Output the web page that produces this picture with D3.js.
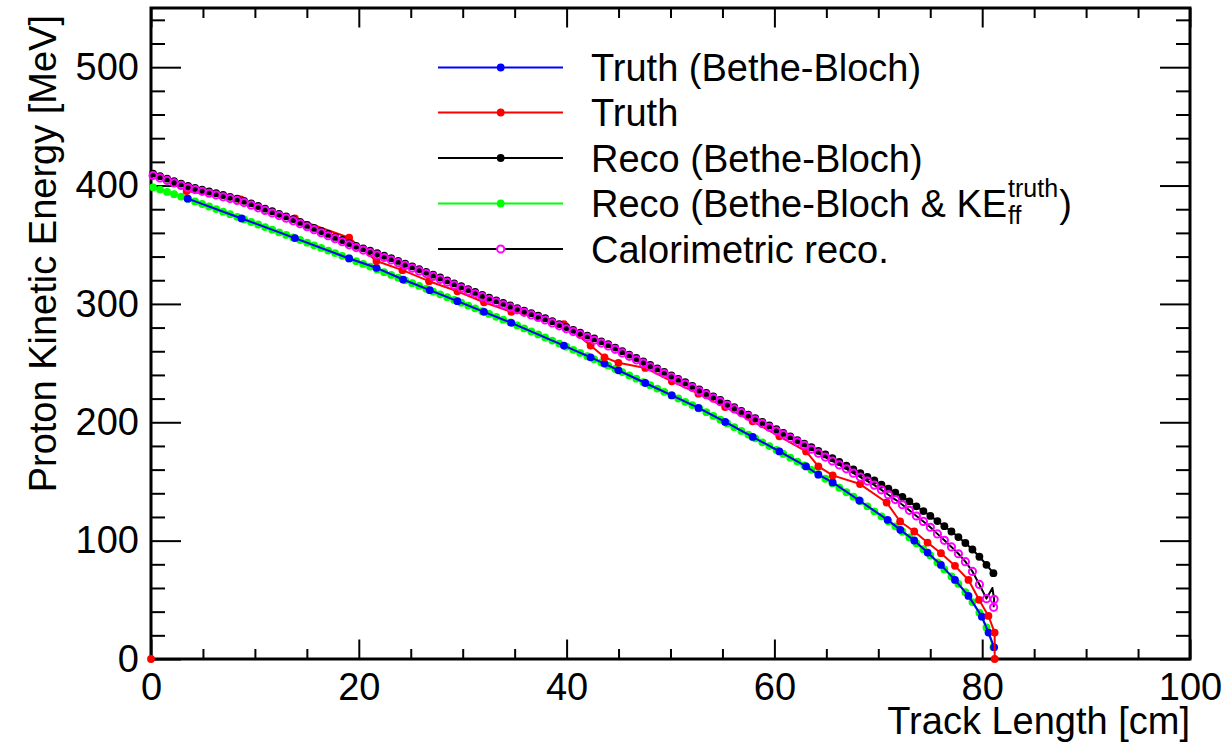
<!DOCTYPE html>
<html>
<head>
<meta charset="utf-8">
<script src="https://cdn.jsdelivr.net/npm/d3@7"></script>
<style>
  html, body { margin: 0; padding: 0; background: #ffffff; }
  svg { display: block; font-family: "Liberation Sans", Arial, Helvetica, sans-serif; }
</style>
</head>
<body>
<svg id="chart" width="1224" height="742"></svg>
<script>
// ---- Reconstructed track: position of each hit along the track [cm] ----
const recoLen = [
  0.20, 0.87, 1.55, 2.22, 2.90, 3.57, 4.24, 4.92, 5.59, 6.27,
  6.94, 7.61, 8.29, 8.96, 9.64, 10.31, 10.98, 11.66, 12.33, 13.01,
  13.68, 14.35, 15.03, 15.70, 16.38, 17.05, 17.72, 18.40, 19.07, 19.75,
  20.42, 21.09, 21.77, 22.44, 23.12, 23.79, 24.46, 25.14, 25.81, 26.49,
  27.16, 27.83, 28.51, 29.18, 29.86, 30.53, 31.20, 31.88, 32.55, 33.23,
  33.90, 34.57, 35.25, 35.92, 36.60, 37.27, 37.94, 38.62, 39.29, 39.97,
  40.64, 41.31, 41.99, 42.66, 43.34, 44.01, 44.68, 45.36, 46.03, 46.71,
  47.38, 48.05, 48.73, 49.40, 50.08, 50.75, 51.42, 52.10, 52.77, 53.45,
  54.12, 54.79, 55.47, 56.14, 56.82, 57.49, 58.16, 58.84, 59.51, 60.19,
  60.86, 61.53, 62.21, 62.88, 63.56, 64.23, 64.90, 65.58, 66.25, 66.93,
  67.60, 68.27, 68.95, 69.62, 70.30, 70.97, 71.64, 72.32, 72.99, 73.67,
  74.34, 75.01, 75.69, 76.36, 77.04, 77.71, 78.38, 79.06, 79.73, 80.41,
  81.08
];

// Reco KE from Bethe-Bloch [MeV]
const recoBB = [
  410.0, 407.9, 405.8, 403.7, 401.6, 399.6, 398.1, 396.6, 395.0, 393.5,
  392.0, 390.5, 388.9, 387.1, 384.9, 382.7, 380.5, 378.3, 376.1, 373.9,
  371.7, 369.3, 366.7, 364.2, 361.6, 359.1, 356.6, 354.0, 351.4, 349.1,
  347.0, 344.9, 342.8, 340.7, 338.6, 336.3, 334.0, 331.7, 329.4, 327.1,
  324.7, 322.3, 319.8, 317.4, 314.9, 312.5, 310.1, 307.6, 305.2, 303.0,
  300.8, 298.7, 296.5, 294.4, 292.2, 290.0, 287.9, 285.4, 283.0, 280.5,
  278.1, 275.7, 273.2, 270.8, 268.4, 266.0, 263.1, 260.1, 257.2, 254.3,
  251.4, 248.4, 245.5, 242.6, 239.7, 236.7, 233.8, 230.8, 227.8, 224.8,
  221.9, 218.9, 215.8, 212.8, 209.6, 206.5, 203.5, 200.3, 197.3, 194.1,
  191.1, 188.1, 185.0, 182.0, 178.9, 175.9, 172.8, 169.6, 166.5, 163.3,
  160.2, 157.1, 153.9, 150.8, 147.4, 143.9, 140.5, 136.9, 133.1, 129.0,
  125.0, 120.9, 116.5, 112.2, 107.7, 103.0, 98.0, 92.5, 86.4, 79.6,
  72.5
];

// Reco KE from Bethe-Bloch, starting from the true front-face KE [MeV]
const recoBBff = [
  398.5, 396.6, 394.6, 392.7, 390.7, 388.8, 386.6, 384.4, 382.3, 380.1,
  377.9, 375.8, 373.6, 371.4, 369.2, 367.1, 364.9, 362.7, 360.5, 358.3,
  356.1, 354.0, 351.7, 349.5, 347.3, 345.1, 342.9, 340.6, 338.4, 336.1,
  333.8, 331.5, 329.1, 326.8, 324.5, 322.2, 319.9, 317.5, 315.2, 312.8,
  310.4, 308.1, 305.7, 303.4, 301.0, 298.6, 296.3, 293.9, 291.5, 289.1,
  286.7, 284.4, 281.8, 279.3, 276.7, 274.2, 271.6, 269.0, 266.5, 263.9,
  261.2, 258.6, 255.8, 253.2, 250.5, 247.8, 245.1, 242.4, 239.6, 236.8,
  234.0, 231.3, 228.5, 225.7, 222.9, 220.1, 217.3, 214.5, 211.7, 208.5,
  205.4, 202.2, 199.0, 195.9, 192.7, 189.6, 186.4, 183.1, 179.9, 176.6,
  173.3, 170.1, 166.8, 163.5, 159.8, 156.1, 152.3, 148.5, 144.7, 140.9,
  137.1, 133.3, 129.0, 124.8, 120.5, 116.3, 112.1, 107.6, 102.7, 97.7,
  92.8, 87.5, 81.6, 75.7, 69.8, 63.4, 56.4, 48.1, 39.1, 26.6,
  10.0
];

// Calorimetric reco: hit positions [cm] and KE [MeV]
const caloLen = [
  0.20, 0.87, 1.55, 2.22, 2.90, 3.57, 4.24, 4.92, 5.59, 6.27,
  6.94, 7.61, 8.29, 8.96, 9.64, 10.31, 10.98, 11.66, 12.33, 13.01,
  13.68, 14.35, 15.03, 15.70, 16.38, 17.05, 17.72, 18.40, 19.07, 19.75,
  20.42, 21.09, 21.77, 22.44, 23.12, 23.79, 24.46, 25.14, 25.81, 26.49,
  27.16, 27.83, 28.51, 29.18, 29.86, 30.53, 31.20, 31.88, 32.55, 33.23,
  33.90, 34.57, 35.25, 35.92, 36.60, 37.27, 37.94, 38.62, 39.29, 39.97,
  40.64, 41.31, 41.99, 42.66, 43.34, 44.01, 44.68, 45.36, 46.03, 46.71,
  47.38, 48.05, 48.73, 49.40, 50.08, 50.75, 51.42, 52.10, 52.77, 53.45,
  54.12, 54.79, 55.47, 56.14, 56.82, 57.49, 58.16, 58.84, 59.51, 60.19,
  60.86, 61.53, 62.21, 62.88, 63.56, 64.23, 64.90, 65.58, 66.25, 66.93,
  67.60, 68.27, 68.95, 69.62, 70.30, 70.97, 71.64, 72.32, 72.99, 73.67,
  74.34, 75.01, 75.69, 76.36, 77.04, 77.71, 78.38, 79.06, 79.73, 80.41,
  80.98, 81.15, 81.10
];
const caloKE = [
  408.5, 406.4, 404.3, 402.2, 400.1, 398.1, 396.6, 395.1, 393.5, 392.0,
  390.5, 389.0, 387.4, 385.6, 383.4, 381.2, 379.0, 376.8, 374.6, 372.4,
  370.2, 367.8, 365.2, 362.7, 360.1, 357.6, 355.1, 352.5, 349.9, 347.6,
  345.5, 343.4, 341.3, 339.2, 337.1, 334.8, 332.5, 330.2, 327.9, 325.6,
  323.2, 320.8, 318.3, 315.9, 313.4, 311.0, 308.6, 306.1, 303.7, 301.5,
  299.3, 297.2, 295.0, 292.9, 290.7, 288.5, 286.4, 283.9, 281.5, 279.0,
  276.6, 274.2, 271.7, 269.3, 266.9, 264.5, 261.6, 258.6, 255.7, 252.8,
  249.9, 246.9, 244.0, 241.1, 238.2, 235.2, 232.3, 229.3, 226.3, 223.3,
  220.4, 217.4, 214.3, 211.3, 208.1, 205.0, 202.0, 198.8, 195.8, 192.6,
  189.6, 186.6, 183.5, 180.5, 177.2, 173.9, 170.6, 167.3, 164.0, 160.7,
  157.0, 153.7, 150.3, 146.9, 142.9, 138.8, 134.7, 130.3, 125.6, 120.8,
  116.2, 111.3, 105.7, 100.3, 94.7, 88.9, 82.2, 74.0, 63.0, 51.0,
  60.0, 50.5, 43.7
];
// Vertex of the calorimetric line that carries no hit marker
const caloUnmarked = [120];

// True trajectory points [cm] and Bethe-Bloch KE [MeV]
const truthLen = [
  3.53, 8.72, 13.85, 19.07, 21.70, 24.26, 26.83, 29.49, 32.05, 34.68,
  39.74, 42.31, 43.65, 44.99, 47.57, 50.13, 52.69, 55.26, 57.91, 60.48,
  63.05, 64.23, 65.61, 68.17, 70.89, 72.12, 73.46, 74.74, 76.03, 77.38,
  78.68, 79.97, 80.61, 81.15
];
const truthBB = [
  388.9, 372.2, 355.6, 338.4, 330.5, 320.6, 311.6, 302.3, 293.3, 284.0,
  264.8, 254.9, 249.6, 243.9, 233.2, 222.7, 212.1, 200.3, 187.6, 175.4,
  162.7, 155.7, 149.2, 133.9, 117.6, 109.1, 100.1, 89.9, 79.5, 66.8,
  53.3, 35.8, 22.3, 9.9
];

// True KE along the trajectory (first entry is an empty point at the origin)
const truthKELen = [
  0.00, 3.43, 8.65, 13.85, 19.07, 21.70, 24.20, 26.76, 29.49, 32.05,
  34.68, 37.10, 39.74, 42.31, 43.65, 44.99, 47.57, 50.13, 52.69, 55.26,
  57.91, 60.48, 63.05, 64.23, 65.61, 68.24, 70.80, 72.10, 73.46, 74.74,
  76.03, 77.38, 78.68, 79.70, 80.60, 81.20, 81.20
];
const truthKE = [
  0.0, 395.3, 388.3, 372.2, 355.9, 336.3, 328.5, 319.2, 310.7, 301.4,
  293.3, 289.7, 283.0, 264.8, 254.9, 250.2, 245.9, 234.6, 224.2, 212.9,
  200.8, 188.1, 175.4, 162.7, 155.1, 147.8, 132.2, 116.2, 107.7, 98.4,
  89.4, 78.7, 66.8, 50.0, 36.4, 22.3, 0.0
];

// Axis ticks
const xTicks = [0, 20, 40, 60, 80, 100];
const xMinorTicks = [5, 10, 15, 25, 30, 35, 45, 50, 55, 65, 70, 75, 85, 90, 95];
const yTicks = [0, 100, 200, 300, 400, 500];
const yMinorTicks = [20, 40, 60, 80, 120, 140, 160, 180, 220, 240, 260, 280,
                     320, 340, 360, 380, 420, 440, 460, 480, 520, 540];

const xTitle = "Track Length [cm]";
const yTitle = "Proton Kinetic Energy [MeV]";

// ---- Layout ----
const FS = 38;
const svg = d3.select("#chart");
const x = d3.scaleLinear().domain([0, 100]).range([151, 1190]);
const y = d3.scaleLinear().domain([0, 550]).range([659, 8]);

function styleAxis(g, withText) {
  g.select(".domain").remove();
  g.selectAll(".tick line").attr("stroke", "#000").attr("stroke-width", 2);
  if (withText) {
    g.attr("font-size", FS).attr("font-family", '"Liberation Sans", Arial, sans-serif');
    g.selectAll(".tick text").attr("fill", "#000");
  } else {
    g.selectAll(".tick text").remove();
  }
}

// bottom axis
svg.append("g").attr("transform", "translate(0,659)")
  .call(d3.axisBottom(x).tickValues(xTicks).tickSize(-19.5).tickPadding(14).tickFormat(d3.format("d")))
  .call(g => styleAxis(g, true));
svg.append("g").attr("transform", "translate(0,659)")
  .call(d3.axisBottom(x).tickValues(xMinorTicks).tickSize(-10))
  .call(g => styleAxis(g, false));
// top axis
svg.append("g").attr("transform", "translate(0,8)")
  .call(d3.axisTop(x).tickValues(xTicks).tickSize(-19.5))
  .call(g => styleAxis(g, false));
svg.append("g").attr("transform", "translate(0,8)")
  .call(d3.axisTop(x).tickValues(xMinorTicks).tickSize(-10))
  .call(g => styleAxis(g, false));
// left axis
svg.append("g").attr("transform", "translate(151,0)")
  .call(d3.axisLeft(y).tickValues(yTicks).tickSize(-30).tickPadding(12).tickFormat(d3.format("d")))
  .call(g => styleAxis(g, true));
svg.append("g").attr("transform", "translate(151,0)")
  .call(d3.axisLeft(y).tickValues(yMinorTicks).tickSize(-14))
  .call(g => styleAxis(g, false));
// right axis
svg.append("g").attr("transform", "translate(1190,0)")
  .call(d3.axisRight(y).tickValues(yTicks).tickSize(-30))
  .call(g => styleAxis(g, false));
svg.append("g").attr("transform", "translate(1190,0)")
  .call(d3.axisRight(y).tickValues(yMinorTicks).tickSize(-14))
  .call(g => styleAxis(g, false));

// frame
svg.append("rect")
  .attr("x", x(0)).attr("y", y(550))
  .attr("width", x(100) - x(0)).attr("height", y(0) - y(550))
  .attr("fill", "none").attr("stroke", "#000").attr("stroke-width", 3);

// axis titles
svg.append("text")
  .attr("x", x(100)).attr("y", 734)
  .attr("text-anchor", "end").attr("font-size", FS).attr("fill", "#000")
  .text(xTitle);
svg.append("text")
  .attr("transform", "translate(56," + y(550) + ") rotate(-90)")
  .attr("x", -7).attr("y", 0)
  .attr("text-anchor", "end").attr("font-size", FS).attr("fill", "#000")
  .text(yTitle);

// ---- Graphs ----
const toPts = (xs, ys) => xs.map((v, i) => [v, ys[i]]);
const R = 3.9;

function drawGraph(pts, lineColor, markerColor, open, opts) {
  opts = opts || {};
  const g = svg.append("g");
  const gen = d3.line().x(d => x(d[0])).y(d => y(d[1]));
  if (opts.lineDefined) gen.defined(opts.lineDefined);
  g.append("path").attr("d", gen(pts))
    .attr("fill", "none").attr("stroke", lineColor).attr("stroke-width", 2)
    .attr("stroke-linejoin", "round");
  const skip = opts.unmarked || [];
  g.selectAll("circle").data(pts.filter((d, i) => !skip.includes(i))).join("circle")
    .attr("cx", d => x(d[0])).attr("cy", d => y(d[1]))
    .attr("r", open ? 3.6 : R)
    .attr("fill", open ? "none" : markerColor)
    .attr("stroke", open ? markerColor : "none")
    .attr("stroke-width", open ? 2 : 0);
}

drawGraph(toPts(recoLen, recoBBff), "#00ff00", "#00ff00", false);
drawGraph(toPts(truthLen, truthBB), "#0000ff", "#0000ff", false);
drawGraph(toPts(truthKELen, truthKE), "#ff0000", "#ff0000", false, { lineDefined: (d, i) => i > 0 });
drawGraph(toPts(recoLen, recoBB), "#000000", "#000000", false);
drawGraph(toPts(caloLen, caloKE), "#000000", "#ff00ff", true, { unmarked: caloUnmarked });

// ---- Legend ----
const legendRows = [
  { label: "Truth (Bethe-Bloch)", line: "#0000ff", marker: "#0000ff", open: false },
  { label: "Truth", line: "#ff0000", marker: "#ff0000", open: false },
  { label: "Reco (Bethe-Bloch)", line: "#000000", marker: "#000000", open: false },
  { label: "Reco (Bethe-Bloch & KE", line: "#00ff00", marker: "#00ff00", open: false, sup: "truth", sub: "ff" },
  { label: "Calorimetric reco.", line: "#000000", marker: "#ff00ff", open: true }
];
const legY = [67.5, 112.5, 158, 203.5, 249];
const leg = svg.append("g");
legendRows.forEach((r, i) => {
  const cy = legY[i];
  leg.append("line").attr("x1", 438).attr("x2", 563).attr("y1", cy).attr("y2", cy)
    .attr("stroke", r.line).attr("stroke-width", 2);
  leg.append("circle").attr("cx", 500.7).attr("cy", cy).attr("r", r.open ? 3.6 : R)
    .attr("fill", r.open ? "#fff" : r.marker)
    .attr("stroke", r.open ? r.marker : "none").attr("stroke-width", r.open ? 2 : 0);
  const t = leg.append("text").attr("x", 591).attr("y", cy + 13.5)
    .attr("font-size", FS).attr("fill", "#000").text(r.label);
  if (r.sup) {
    const w = t.node().getComputedTextLength();
    const sx = 591 + w + 1;
    const s1 = leg.append("text").attr("x", sx).attr("y", cy + 13.5 - 20)
      .attr("font-size", 25).attr("fill", "#000").text(r.sup);
    leg.append("text").attr("x", sx).attr("y", cy + 13.5 + 7)
      .attr("font-size", 25).attr("fill", "#000").text(r.sub);
    const w2 = s1.node().getComputedTextLength();
    leg.append("text").attr("x", sx + w2 + 1).attr("y", cy + 13.5)
      .attr("font-size", FS).attr("fill", "#000").text(")");
  }
});
</script>
</body>
</html>
